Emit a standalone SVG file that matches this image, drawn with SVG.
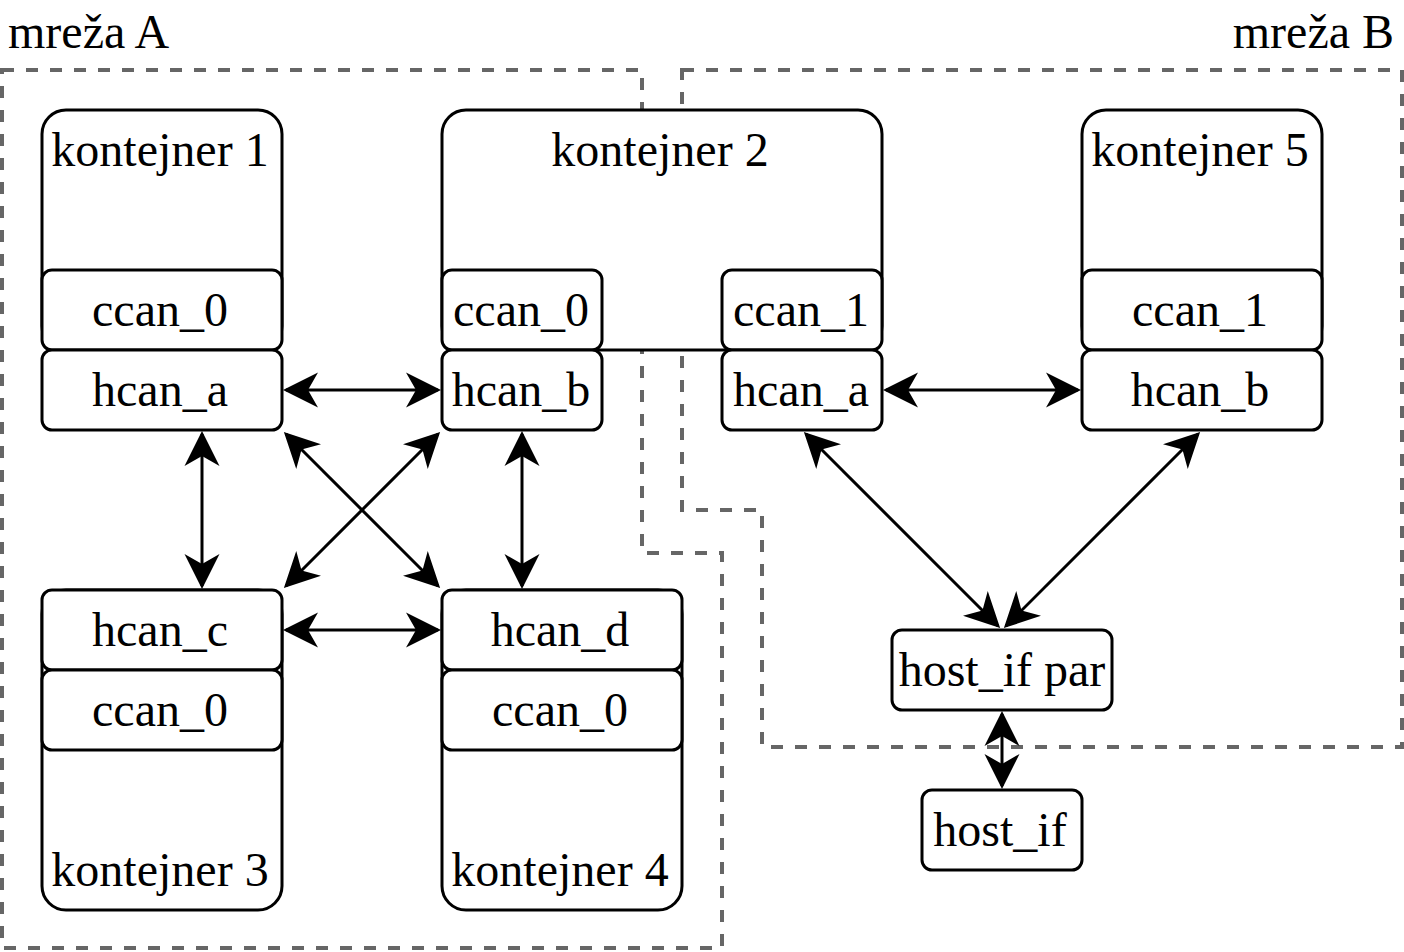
<svg xmlns="http://www.w3.org/2000/svg" width="1404" height="952" viewBox="0 0 1404 952">
<style>
.t{font-family:"Liberation Serif","Times New Roman",serif;font-size:48px;fill:#000;text-anchor:middle}
.box{fill:#fff;stroke:#000;stroke-width:3}
.net{fill:none;stroke:#666;stroke-width:4;stroke-dasharray:12 12}
.c{stroke:#000;stroke-width:3;fill:none;marker-start:url(#ah);marker-end:url(#ah)}
</style>
<defs>
<marker id="ah" markerUnits="userSpaceOnUse" viewBox="0 0 36 36" markerWidth="36" markerHeight="36" refX="32" refY="18" orient="auto-start-reverse">
<path d="M35,18 L0,0.5 L10,18 L0,35.5 Z" fill="#000"/>
</marker>
</defs>
<g id="networks">
<polygon class="net" points="2,70 642,70 642,553 722,553 722,948 2,948"/>
<polygon class="net" points="682,70 1402,70 1402,747 762,747 762,510 682,510"/>
<text class="t" x="8" y="48" style="text-anchor:start">mreža A</text>
<text class="t" x="1394" y="48" style="text-anchor:end">mreža B</text>
</g>
<g id="kontejner1">
<rect class="box" x="42" y="110" width="240" height="240" rx="24"/>
<text class="t" x="160" y="166">kontejner 1</text>
<rect class="box" x="42" y="270" width="240" height="80" rx="10"/>
<text class="t" x="160" y="326">ccan_0</text>
<rect class="box" x="42" y="350" width="240" height="80" rx="10"/>
<text class="t" x="160" y="406">hcan_a</text>
</g>
<g id="kontejner2">
<rect class="box" x="442" y="110" width="440" height="240" rx="24"/>
<text class="t" x="660" y="166">kontejner 2</text>
<rect class="box" x="442" y="270" width="160" height="80" rx="10"/>
<text class="t" x="521" y="326">ccan_0</text>
<rect class="box" x="442" y="350" width="160" height="80" rx="10"/>
<text class="t" x="521" y="406">hcan_b</text>
<rect class="box" x="722" y="270" width="160" height="80" rx="10"/>
<text class="t" x="801" y="326">ccan_1</text>
<rect class="box" x="722" y="350" width="160" height="80" rx="10"/>
<text class="t" x="801" y="406">hcan_a</text>
</g>
<g id="kontejner5">
<rect class="box" x="1082" y="110" width="240" height="240" rx="24"/>
<text class="t" x="1200" y="166">kontejner 5</text>
<rect class="box" x="1082" y="270" width="240" height="80" rx="10"/>
<text class="t" x="1200" y="326">ccan_1</text>
<rect class="box" x="1082" y="350" width="240" height="80" rx="10"/>
<text class="t" x="1200" y="406">hcan_b</text>
</g>
<g id="kontejner3">
<rect class="box" x="42" y="590" width="240" height="320" rx="24"/>
<text class="t" x="160" y="886">kontejner 3</text>
<rect class="box" x="42" y="590" width="240" height="80" rx="10"/>
<text class="t" x="160" y="646">hcan_c</text>
<rect class="box" x="42" y="670" width="240" height="80" rx="10"/>
<text class="t" x="160" y="726">ccan_0</text>
</g>
<g id="kontejner4">
<rect class="box" x="442" y="590" width="240" height="320" rx="24"/>
<text class="t" x="560" y="886">kontejner 4</text>
<rect class="box" x="442" y="590" width="240" height="80" rx="10"/>
<text class="t" x="560" y="646">hcan_d</text>
<rect class="box" x="442" y="670" width="240" height="80" rx="10"/>
<text class="t" x="560" y="726">ccan_0</text>
</g>
<g id="hostifpar">
<rect class="box" x="892" y="630" width="220" height="80" rx="10"/>
<text class="t" x="1002" y="686">host_if par</text>
</g>
<g id="hostif">
<rect class="box" x="922" y="790" width="160" height="80" rx="10"/>
<text class="t" x="1000" y="846">host_if</text>
</g>
<g id="connectors">
<line class="c" x1="286" y1="390" x2="438" y2="390"/>
<line class="c" x1="286" y1="630" x2="438" y2="630"/>
<line class="c" x1="202" y1="434" x2="202" y2="586"/>
<line class="c" x1="522" y1="434" x2="522" y2="586"/>
<line class="c" x1="286" y1="434" x2="438" y2="586"/>
<line class="c" x1="438" y1="434" x2="286" y2="586"/>
<line class="c" x1="886" y1="390" x2="1078" y2="390"/>
<line class="c" x1="806" y1="434" x2="998" y2="626"/>
<line class="c" x1="1198" y1="434" x2="1006" y2="626"/>
<line class="c" x1="1002" y1="714" x2="1002" y2="786"/>
</g>
</svg>
